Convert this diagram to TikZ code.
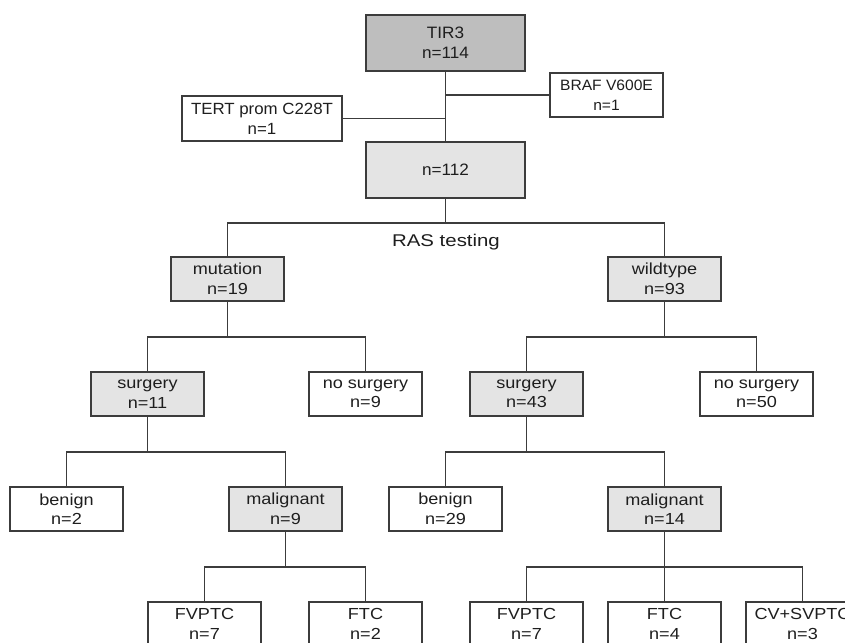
\documentclass[tikz,border=0pt]{standalone}
\usepackage{fontspec}
\setmainfont{Liberation Sans}
\newfontfamily\fa[FakeStretch=1.04]{Liberation Sans}
\newfontfamily\fb[FakeStretch=1.13]{Liberation Sans}
\newfontfamily\fc[FakeStretch=1.2]{Liberation Sans}
\definecolor{linec}{HTML}{3C3C3C}
\definecolor{darkg}{HTML}{BEBEBE}
\definecolor{lightg}{HTML}{E4E4E4}
\definecolor{txt}{HTML}{1E1E1E}
\tikzset{
  box/.style={draw=linec, line width=1.3pt, fill=white, inner sep=0pt,
    minimum width=113pt, minimum height=44pt, align=center, text=txt,
    font=\fb\fontsize{16}{19.5}\selectfont},
  gbox/.style={box, fill=lightg},
  topbox/.style={box, minimum width=159pt, minimum height=56pt,
    font=\fa\fontsize{16.5}{20}\selectfont},
  conn/.style={draw=linec, line width=1.3pt}
}
\begin{document}
\begin{tikzpicture}[x=1pt,y=-1pt]
\useasboundingbox (0,0) rectangle (845,642);
\clip (0,0) rectangle (845,642);
\fill[white] (0,0) rectangle (845,642);

\node[topbox, fill=darkg] (tir3) at (445.5,43) {TIR3\\n=114};
\node[box, font=\fa\fontsize{15}{20}\selectfont] (braf) at (606.5,95) {BRAF V600E\\n=1};
\node[box, minimum width=160pt, minimum height=45pt, font=\fa\fontsize{16.2}{20}\selectfont] (tert) at (262,118.5) {TERT prom C228T\\n=1};
\node[topbox, fill=lightg] (n112) at (445.5,170) {n=112};
\node[text=txt, font=\fc\fontsize{17}{20}\selectfont, inner sep=0pt] (ras) at (446,242) {RAS testing};

\node[gbox] (mut) at (227.5,279) {mutation\\n=19};
\node[gbox] (wild) at (664.5,279) {wildtype\\n=93};

\node[gbox] (surg1) at (147.5,394) {surgery\\n=11};
\node[box] (nos1) at (365.5,394) {no surgery\\n=9};
\node[gbox] (surg2) at (526.5,394) {surgery\\n=43};
\node[box] (nos2) at (756.5,394) {no surgery\\n=50};

\node[box] (ben1) at (66.5,509) {benign\\n=2};
\node[gbox] (mal1) at (285.5,509) {malignant\\n=9};
\node[box] (ben2) at (445.5,509) {benign\\n=29};
\node[gbox] (mal2) at (664.5,509) {malignant\\n=14};

\node[box] (fv1) at (204.5,624) {FVPTC\\n=7};
\node[box] (ftc1) at (365.5,624) {FTC\\n=2};
\node[box] (fv2) at (526.5,624) {FVPTC\\n=7};
\node[box] (ftc2) at (664.5,624) {FTC\\n=4};
\node[box] (cv) at (802.5,624) {CV+SVPTC\\n=3};

% top connectors
\draw[conn] (tir3.south) -- (n112.north);
\draw[conn] (braf.west) -- (braf.west -| tir3.south);
\draw[conn] (tert.east) -- (tert.east -| n112.north);

% RAS split
\coordinate (b1) at (445.5,223);
\draw[conn] (n112.south) -- (b1);
\draw[conn] (mut.north) |- (b1) -| (wild.north);

% mutation split
\coordinate (b2) at (227.5,337);
\draw[conn] (mut.south) -- (b2);
\draw[conn] (surg1.north) |- (b2) -| (nos1.north);

% wildtype split
\coordinate (b3) at (664.5,337);
\draw[conn] (wild.south) -- (b3);
\draw[conn] (surg2.north) |- (b3) -| (nos2.north);

% surgery 1 split
\coordinate (b4) at (147.5,452);
\draw[conn] (surg1.south) -- (b4);
\draw[conn] (ben1.north) |- (b4) -| (mal1.north);

% surgery 2 split
\coordinate (b5) at (526.5,452);
\draw[conn] (surg2.south) -- (b5);
\draw[conn] (ben2.north) |- (b5) -| (mal2.north);

% malignant 1 split
\coordinate (b6) at (285.5,567);
\draw[conn] (mal1.south) -- (b6);
\draw[conn] (fv1.north) |- (b6) -| (ftc1.north);

% malignant 2 split
\coordinate (b7) at (664.5,567);
\draw[conn] (mal2.south) -- (b7);
\draw[conn] (fv2.north) |- (b7) -| (cv.north);
\draw[conn] (b7) -- (ftc2.north);
\end{tikzpicture}
\end{document}
